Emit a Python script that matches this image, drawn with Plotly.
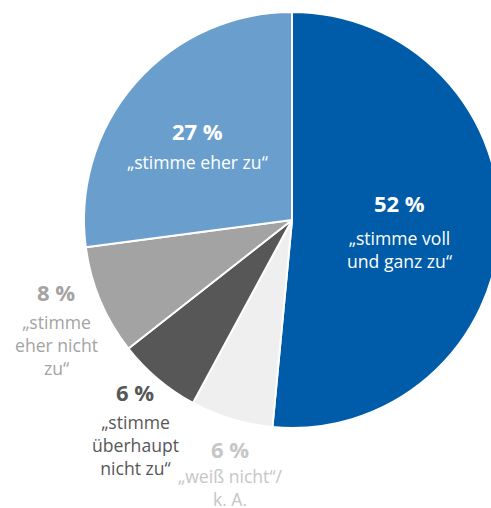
import plotly.graph_objects as go

categories = ["„stimme voll<br>und ganz zu“", "„weiß nicht“/<br>k. A.", "„stimme<br>überhaupt<br>nicht zu“",
              "„stimme<br>eher nicht<br>zu“", "„stimme eher zu“"]
values = [51.5, 6.4, 6.5, 8.5, 27.1]
pct_labels = ["52 %", "6 %", "6 %", "8 %", "27 %"]

slice_colors = ["#005ca9", "#efefef", "#575757", "#a3a3a3", "#6a9fcd"]
text_colors = ["#ffffff", "#c6c6c6", "#575757", "#a3a3a3", "#ffffff"]
# label anchors in pixels: (x centre, percent line centre y, first description line centre y)
label_pos = [(399, 203, 236), (230, 449, 474), (135, 392, 420), (56, 292, 320), (197, 131, 160)]

W, H = 500, 508
PCT_SIZE, DESC_SIZE = 22, 17.6

fig = go.Figure(go.Pie(
    values=values, labels=categories, sort=False, direction="clockwise", rotation=0,
    marker=dict(colors=slice_colors, line=dict(color="white", width=2)),
    textinfo="none", hoverinfo="label",
    domain=dict(x=[(292 - 208) / W, 1.0], y=[(508 - 428) / H, (508 - 12) / H]),
    showlegend=False,
))

for lab, pct, col, (px, py, dy) in zip(categories, pct_labels, text_colors, label_pos):
    fig.add_annotation(
        x=px / W, y=1 - py / H, xref="paper", yref="paper", xanchor="center", yanchor="middle",
        text=f"<b>{pct}</b>", showarrow=False,
        font=dict(family="Open Sans", size=PCT_SIZE, color=col),
    )
    top = dy - 0.65 * DESC_SIZE - 1
    fig.add_annotation(
        x=px / W, y=1 - top / H, xref="paper", yref="paper", xanchor="center", yanchor="top",
        text=lab, showarrow=False, align="center",
        font=dict(family="Open Sans", size=DESC_SIZE, color=col),
    )

fig.update_layout(width=W, height=H, margin=dict(l=0, r=0, t=0, b=0),
                  paper_bgcolor="white", plot_bgcolor="white")

fig.write_html("out.html", config={"displayModeBar": False},
               post_script="document.body.style.margin='0';document.body.style.overflow='hidden';")
